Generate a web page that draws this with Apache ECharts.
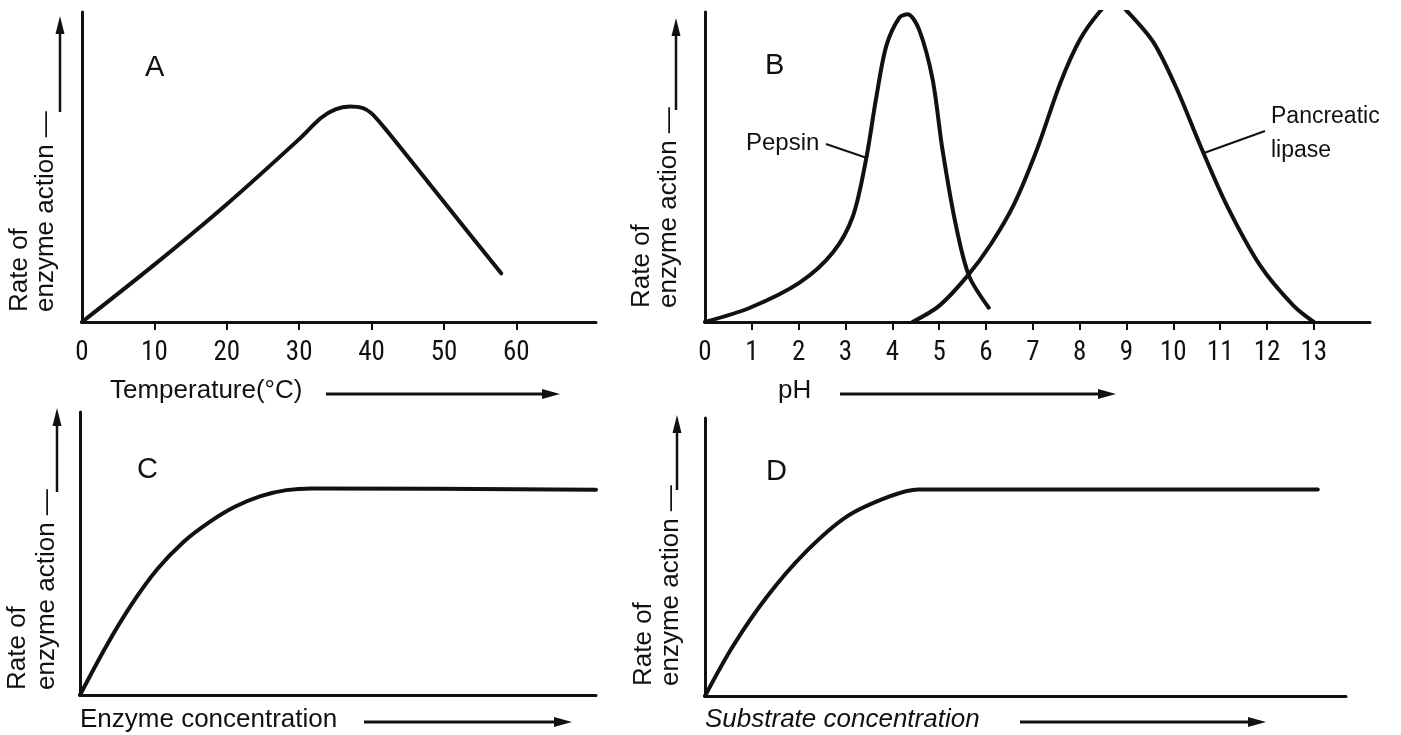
<!DOCTYPE html>
<html>
<head>
<meta charset="utf-8">
<script src="https://cdn.jsdelivr.net/npm/echarts@6/dist/echarts.min.js"></script>
<style>
html,body{margin:0;padding:0;background:#fff;}
#chart{width:1401px;height:735px;}
</style>
</head>
<body>
<div id="chart"></div>
<script>
// ---- Panel A: temperature ----
const tempC = [0, 10, 20, 30, 33, 35, 37, 38.8, 40, 42, 50, 57.9];
const rateA = [0, 18.5, 38, 59, 65.8, 68.6, 69.5, 69, 67.3, 62, 38.7, 15.7];
const tempTickLabels = [0, 10, 20, 30, 40, 50, 60];

// ---- Panel B: pH ----
const pHPepsin = [0, 0.96, 2.02, 2.73, 3.16, 3.44, 3.65, 3.87, 4.15, 4.33, 4.57, 4.86, 5.07, 5.36, 5.64, 6.06];
const ratePepsin = [0, 4.6, 12.7, 22.4, 34.2, 52.5, 71.8, 89, 98.2, 99.3, 94.4, 78.3, 55.7, 31, 14.8, 4.6];
const pHLipase = [4.43, 5.0, 5.6, 6.1, 6.6, 7.09, 7.59, 8.01, 8.44, 8.72, 9.01, 9.58, 10.08, 10.58, 11.15, 11.86, 12.57, 13.0];
const rateLipase = [0, 5.2, 14.8, 25, 38, 55.7, 77.2, 91.2, 100.3, 104, 100.3, 90.1, 75, 56.8, 37.4, 18.1, 5.2, 0];
const pHTickLabels = [0, 1, 2, 3, 4, 5, 6, 7, 8, 9, 10, 11, 12, 13];

// ---- Panel C: enzyme concentration ----
const enzymeConc = [0, 5, 10, 15, 20, 25, 30, 35, 40, 45, 100];
const rateC = [0, 17, 32, 44.5, 54, 61, 66.5, 70.3, 72.4, 73, 72.5];

// ---- Panel D: substrate concentration ----
const substrateConc = [0, 4.3, 9.6, 15.5, 22.1, 28.7, 33.3, 95.6];
const rateD = [0, 17.7, 35.5, 51.3, 64.5, 71.7, 74.3, 74.3];

// ---- Texts ----
const panelLetters = ['A', 'B', 'C', 'D'];
const yLabelLine1 = 'Rate of';
const yLabelLine2 = 'enzyme action';
const xTitles = ['Temperature(°C)', 'pH', 'Enzyme concentration', 'Substrate concentration'];
const curveNames = ['Pepsin', 'Pancreatic', 'lipase'];

const zip = (xs, ys) => xs.map((x, i) => [x, ys[i]]);
const INK = '#111';
const FONT = '"Liberation Sans", Arial, Helvetica, sans-serif';
const NARROW = '"Liberation Sans Narrow", "Roboto Condensed", "Liberation Sans", sans-serif';

const grids = [
  {left: 82, top: 12, width: 514, height: 310},
  {left: 705, top: 12, width: 665, height: 310},
  {left: 80, top: 412, width: 516, height: 283},
  {left: 705, top: 418, width: 641, height: 278}
];

const axisLine = {show: true, onZero: false, lineStyle: {color: INK, width: 3}};
const tickLabelStyle = {color: INK, fontSize: 27, fontFamily: NARROW, margin: 18};

const xAxes = [
  {gridIndex: 0, type: 'value', min: 0, max: 71, axisLine,
   axisTick: {show: true, length: 8, lineStyle: {color: INK, width: 2}, customValues: tempTickLabels.slice(1)},
   axisLabel: Object.assign({customValues: tempTickLabels}, tickLabelStyle), splitLine: {show: false}},
  {gridIndex: 1, type: 'value', min: 0, max: 14.2, axisLine,
   axisTick: {show: true, length: 8, lineStyle: {color: INK, width: 2}, customValues: pHTickLabels.slice(1)},
   axisLabel: Object.assign({customValues: pHTickLabels}, tickLabelStyle), splitLine: {show: false}},
  {gridIndex: 2, type: 'value', min: 0, max: 100, axisLine, axisTick: {show: false}, axisLabel: {show: false}, splitLine: {show: false}},
  {gridIndex: 3, type: 'value', min: 0, max: 100, axisLine, axisTick: {show: false}, axisLabel: {show: false}, splitLine: {show: false}}
];
const yAxes = [0, 1, 2, 3].map(i => ({
  gridIndex: i, type: 'value', min: 0, max: 100, axisLine,
  axisTick: {show: false}, axisLabel: {show: false}, splitLine: {show: false}
}));

const lineSeries = (name, idx, data) => ({
  name, type: 'line', xAxisIndex: idx, yAxisIndex: idx, data,
  showSymbol: false, smooth: 0.3,
  lineStyle: {color: INK, width: 4, cap: 'round', join: 'round'},
  clip: true, silent: true, animation: false
});

const series = [
  lineSeries('Temperature', 0, zip(tempC, rateA)),
  lineSeries('Pepsin', 1, zip(pHPepsin, ratePepsin)),
  lineSeries('Pancreatic lipase', 1, zip(pHLipase, rateLipase)),
  lineSeries('Enzyme concentration', 2, zip(enzymeConc, rateC)),
  lineSeries('Substrate concentration', 3, zip(substrateConc, rateD))
];

// ---- annotation graphics ----
const g = [];
function txt(text, x, y, size, opts) {
  opts = opts || {};
  g.push({type: 'text', x, y, rotation: opts.rot || 0, silent: true,
    style: {text, fill: INK, font: (opts.style || 'normal') + ' ' + (opts.weight || 'normal') + ' ' + size + 'px ' + (opts.family || FONT),
      textAlign: opts.align || 'left', textVerticalAlign: 'middle'}});
}
function seg(x1, y1, x2, y2, w) {
  g.push({type: 'line', silent: true, shape: {x1, y1, x2, y2}, style: {stroke: INK, lineWidth: w || 2.5}});
}
function arrowH(x1, x2, y) {
  seg(x1, y, x2 - 10, y, 3);
  g.push({type: 'polygon', silent: true, shape: {points: [[x2, y], [x2 - 18, y - 5], [x2 - 18, y + 5]]}, style: {fill: INK}});
}
function arrowV(x, y1, y2) { // y1 bottom, y2 top
  seg(x, y1, x, y2 + 10, 2.5);
  g.push({type: 'polygon', silent: true, shape: {points: [[x, y2], [x - 4.5, y2 + 18], [x + 4.5, y2 + 18]]}, style: {fill: INK}});
}
function yLabel(x1, x2, bottom, ax, arrowBottom, arrowTop) {
  txt(yLabelLine1, x1, bottom, 26, {rot: Math.PI / 2});
  txt(yLabelLine2 + ' —', x2, bottom, 26, {rot: Math.PI / 2});
  arrowV(ax, arrowBottom, arrowTop);
}

// panel letters
txt(panelLetters[0], 145, 68, 29);
txt(panelLetters[1], 765, 66, 29);
txt(panelLetters[2], 137, 470, 29);
txt(panelLetters[3], 766, 472, 29);

// y labels with arrows
yLabel(20, 46, 312, 60, 112, 16);
yLabel(642, 669, 308, 676, 110, 18);
yLabel(18, 47, 690, 57, 492, 408);
yLabel(644, 671, 686, 677, 490, 415);

// x titles with arrows
txt(xTitles[0], 110, 391, 26);
arrowH(326, 560, 394);
txt(xTitles[1], 778, 391, 26);
arrowH(840, 1116, 394);
txt(xTitles[2], 80, 720, 26);
arrowH(364, 572, 722);
txt(xTitles[3], 705, 720, 26, {style: 'italic'});
arrowH(1020, 1266, 722);

// curve labels with leader lines
txt(curveNames[0], 746, 143, 24);
seg(826, 144, 867, 158, 2);
txt(curveNames[1], 1271, 117, 23);
txt(curveNames[2], 1271, 151, 23);
seg(1265, 131, 1204, 153, 2);

const chart = echarts.init(document.getElementById('chart'), null, {renderer: 'canvas'});
chart.setOption({
  backgroundColor: '#fff',
  animation: false,
  grid: grids,
  xAxis: xAxes,
  yAxis: yAxes,
  series,
  graphic: g
});
</script>
</body>
</html>
